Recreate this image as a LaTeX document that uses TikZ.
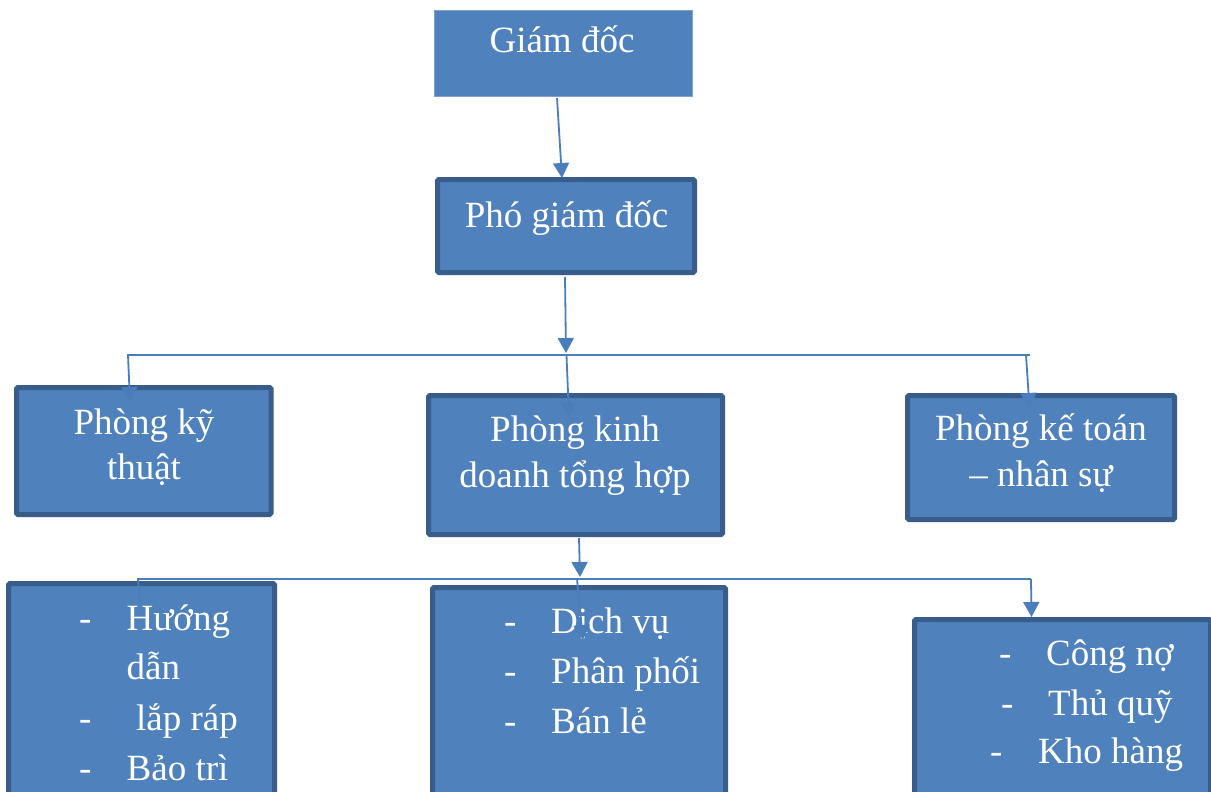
\documentclass[tikz,border=0pt]{standalone}
\usepackage{fontspec}
\setmainfont{Liberation Serif}
\usetikzlibrary{arrows.meta}
\definecolor{boxfill}{HTML}{4F81BD}
\definecolor{boxline}{HTML}{385D8A}
\definecolor{conn}{HTML}{4A7EBB}
\definecolor{lightedge}{HTML}{7FA3D1}
\begin{document}
\begin{tikzpicture}[x=1pt,y=-1pt,
  box/.style={fill=boxfill,draw=boxline,line width=5pt,rounded corners=1.5pt,inner sep=0pt},
  topbox/.style={fill=boxfill,draw=lightedge,line width=0.8pt,inner sep=0pt},
  txt/.style={text=white,font=\fontsize{37}{46}\selectfont,inner sep=0pt,anchor=base},
  itm/.style={text=white,font=\fontsize{37}{46}\selectfont,inner sep=0pt,anchor=base west},
  arr/.style={draw=conn,line width=1.8pt,-{Triangle[width=16pt,length=15pt]}},
  ln/.style={draw=conn,line width=1.8pt}]
\useasboundingbox (0,0) rectangle (1211,792);
\clip (0,0) rectangle (1211,792);
\fill[white] (0,0) rectangle (1211,792);

% boxes
\node[topbox,minimum width=258pt,minimum height=86pt] (gd) at (563,53) {};
\node[box,minimum width=257pt,minimum height=93pt] (pgd) at (566,226) {};
\node[box,minimum width=254.5pt,minimum height=127pt] (pkt) at (143.75,451) {};
\node[box,minimum width=294pt,minimum height=139pt] (pkd) at (575.5,465) {};
\node[box,minimum width=267pt,minimum height=124pt] (pkn) at (1041,457.5) {};
\node[box,minimum width=266pt,minimum height=266.5pt] (b1) at (141.5,716.75) {};
\node[box,minimum width=293pt,minimum height=262.5pt] (b2) at (579,718.75) {};
\node[box,minimum width=296pt,minimum height=230.5pt] (b3) at (1062.5,734.75) {};

% texts
\node[txt] (tgd) at (562,53) {Giám đốc};
\node[txt] (tpgd) at (566.5,227) {Phó giám đốc};
\node[txt] (tkt1) at (144,434) {Phòng kỹ};
\node[txt] (tkt2) at (144,479) {thuật};
\node[txt] (tkd1) at (575,441) {Phòng kinh};
\node[txt] (tkd2) at (575,487) {doanh tổng hợp};
\node[txt] (tkn1) at (1041,440) {Phòng kế toán};
\node[txt] (tkn2) at (1041,486) {– nhân sự};

\node[itm] (d11) at (79,630) {-};
\node[itm] (i11) at (126.5,630) {Hướng};
\node[itm] (i12) at (126.5,679) {dẫn};
\node[itm] (d13) at (79,730) {-};
\node[itm] (i13) at (136,730) {lắp ráp};
\node[itm] (d14) at (79,780) {-};
\node[itm] (i14) at (126.5,780) {Bảo trì};

\node[itm] (d21) at (504,633) {-};
\node[itm] (i21) at (551,633) {Dịch vụ};
\node[itm] (d22) at (504,683) {-};
\node[itm] (i22) at (551,683) {Phân phối};
\node[itm] (d23) at (504,733) {-};
\node[itm] (i23) at (551,733) {Bán lẻ};

\node[itm] (d31) at (999,665) {-};
\node[itm] (i31) at (1046,665) {Công nợ};
\node[itm] (d32) at (1001,715) {-};
\node[itm] (i32) at (1048,715) {Thủ quỹ};
\node[itm] (d33) at (990,763) {-};
\node[itm] (i33) at (1038,763) {Kho hàng};

% connector points
\coordinate (gdout) at (557,98);
\coordinate (pgdin) at (562,178);
\coordinate (pgdout) at (565,277);
\coordinate (bus1m) at (566,353);
\coordinate (bus1l) at (127,355);
\coordinate (bus1r) at (1030,355);
\coordinate (ktin) at (130,402);
\coordinate (kdin) at (569,417);
\coordinate (knin) at (1029.5,408);
\coordinate (kdout) at (579,538);
\coordinate (bus2m) at (580,577);
\coordinate (bus2l) at (137,579);
\coordinate (bus2r) at (1031,579);
\coordinate (b1in) at (140,602);
\coordinate (b2in) at (583,640);
\coordinate (b3in) at (1031.5,617);

\draw[ln] (bus1l) -- (bus1r);
\draw[ln] (bus2l) -- (bus2r);
\draw[arr] (gdout) -- (pgdin);
\draw[arr] (pgdout) -- (bus1m);
\draw[arr] ([xshift=1pt]bus1l) -- (ktin);
\draw[arr] (566.5,355) -- (kdin);
\draw[arr] ([xshift=-4pt]bus1r) -- (knin);
\draw[arr] (kdout) -- (bus2m);
\draw[ln] ([xshift=1pt]bus2l) -- (b1in);
\draw[arr] (577,579) -- (b2in);
\draw[arr] (bus2r) -- (b3in);
\end{tikzpicture}
\end{document}
